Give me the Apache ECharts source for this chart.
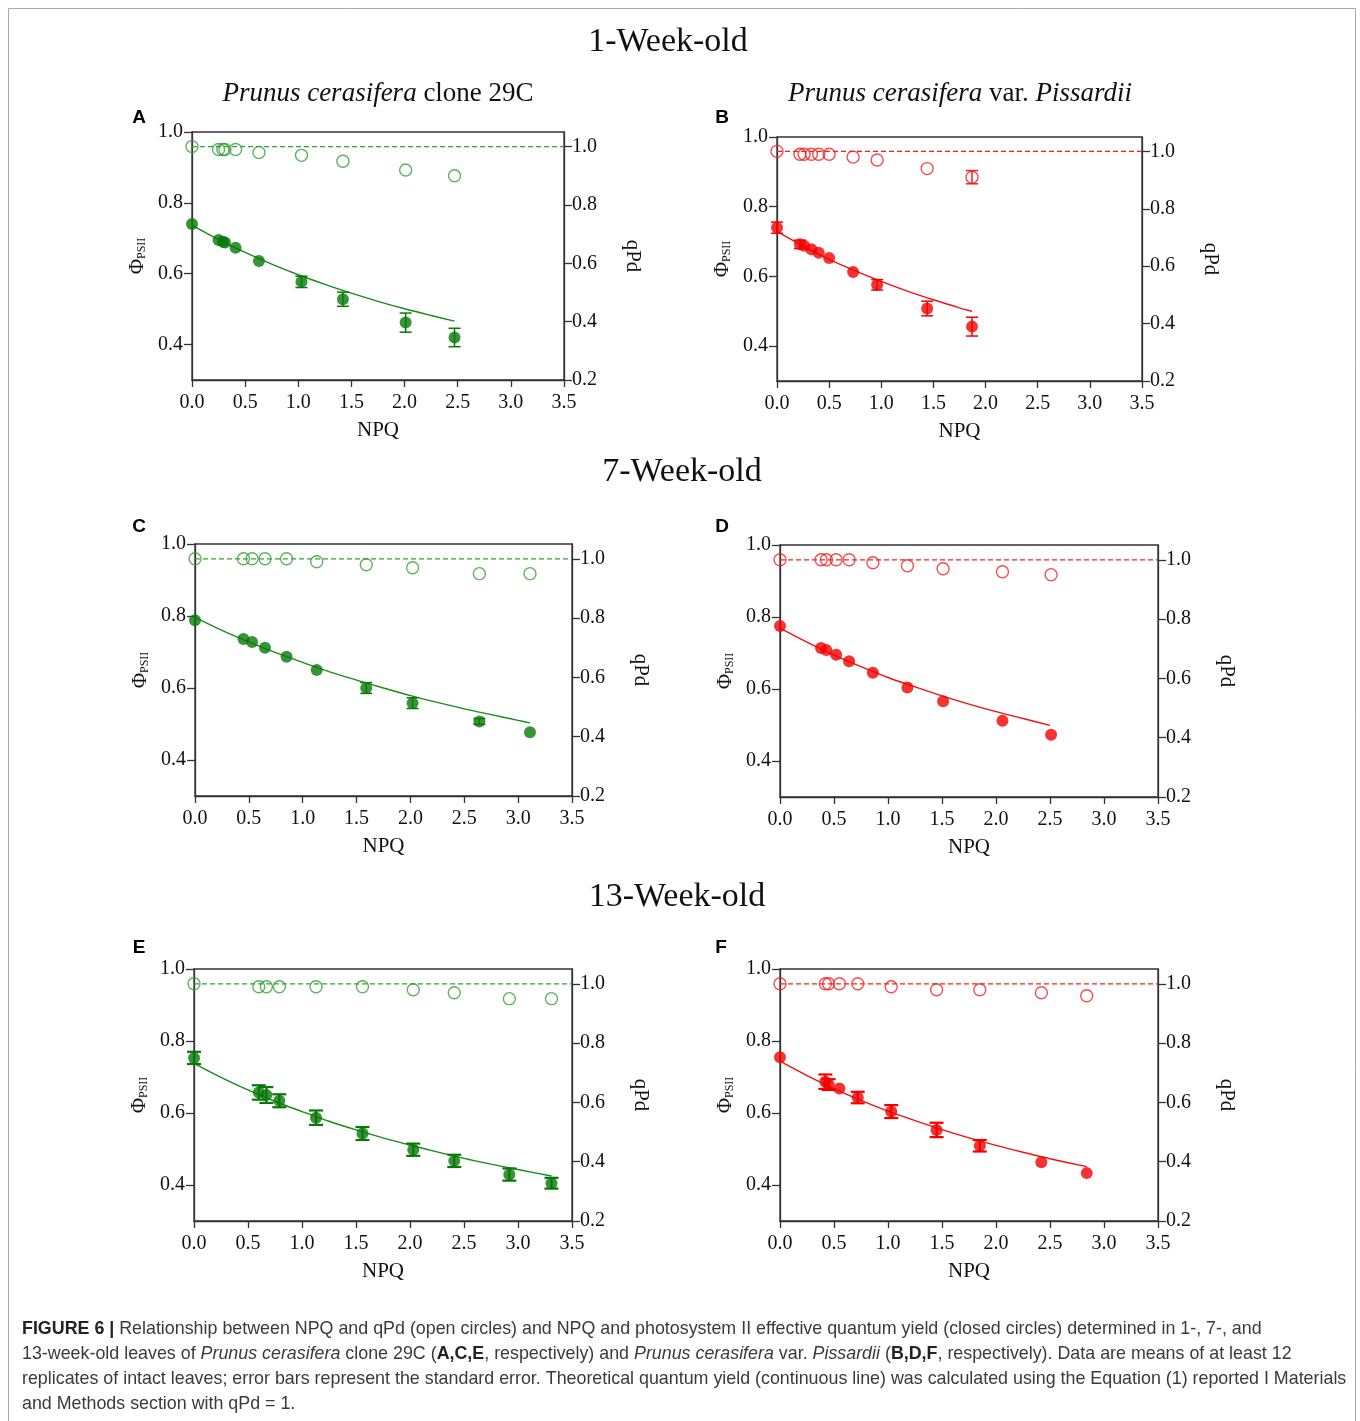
<!DOCTYPE html>
<html>
<head>
<meta charset="utf-8">
<script src="https://cdn.jsdelivr.net/npm/echarts@6/dist/echarts.min.js"></script>
<style>
  html, body { margin: 0; padding: 0; background: #fff; }
  #chart { width: 1360px; height: 1421px; }
</style>
</head>
<body>
<div id="chart"></div>
<script>
// ---------- DATA ----------
const xTicks = [0, 0.5, 1.0, 1.5, 2.0, 2.5, 3.0, 3.5];
const phiTicks = [0.4, 0.6, 0.8, 1.0];
const qpdTicks = [0.2, 0.4, 0.6, 0.8, 1.0];

// Panel A: 1-week-old, clone 29C
const npqA    = [0, 0.25, 0.29, 0.31, 0.41, 0.63, 1.03, 1.42, 2.01, 2.47];
const qpdA    = [1.0, 0.99, 0.99, 0.99, 0.99, 0.98, 0.97, 0.95, 0.92, 0.90];
const phiA    = [0.74, 0.695, 0.69, 0.688, 0.673, 0.636, 0.577, 0.528, 0.462, 0.42];
const phiErrA = [0, 0, 0, 0, 0, 0, 0.016, 0.02, 0.027, 0.026];
const curveXA = [0, 0.25, 0.5, 0.75, 1.0, 1.25, 1.5, 1.75, 2.0, 2.25, 2.47];
const curveYA = [0.737, 0.696, 0.66, 0.627, 0.597, 0.57, 0.545, 0.522, 0.501, 0.482, 0.466];

// Panel B: 1-week-old, var. Pissardii
const npqB    = [0, 0.22, 0.26, 0.33, 0.40, 0.50, 0.73, 0.96, 1.44, 1.87];
const qpdB    = [1.0, 0.99, 0.99, 0.99, 0.99, 0.99, 0.98, 0.97, 0.94, 0.91];
const qpdErrB = [0, 0, 0, 0, 0, 0, 0, 0, 0, 0.023];
const phiB    = [0.74, 0.692, 0.688, 0.678, 0.668, 0.653, 0.613, 0.576, 0.508, 0.456];
const phiErrB = [0.016, 0.012, 0, 0, 0, 0, 0, 0.015, 0.021, 0.027];
const curveXB = [0, 0.25, 0.5, 0.75, 1.0, 1.25, 1.5, 1.75, 1.87];
const curveYB = [0.729, 0.687, 0.649, 0.616, 0.586, 0.558, 0.533, 0.51, 0.5];

// Panel C: 7-week-old, clone 29C
const npqC    = [0, 0.45, 0.53, 0.65, 0.85, 1.13, 1.59, 2.02, 2.64, 3.11];
const qpdC    = [1.0, 1.0, 1.0, 1.0, 1.0, 0.99, 0.98, 0.97, 0.95, 0.95];
const phiC    = [0.788, 0.736, 0.728, 0.712, 0.687, 0.65, 0.60, 0.558, 0.507, 0.477];
const phiErrC = [0, 0, 0, 0, 0, 0, 0.015, 0.015, 0.008, 0];
const curveXC = [0, 0.25, 0.5, 0.75, 1.0, 1.25, 1.5, 1.75, 2.0, 2.25, 2.5, 2.75, 3.0, 3.11];
const curveYC = [0.796, 0.76, 0.728, 0.698, 0.671, 0.645, 0.622, 0.6, 0.579, 0.56, 0.542, 0.526, 0.51, 0.503];

// Panel D: 7-week-old, var. Pissardii
const npqD    = [0, 0.38, 0.43, 0.52, 0.64, 0.86, 1.18, 1.51, 2.06, 2.51];
const qpdD    = [1.0, 1.0, 1.0, 1.0, 1.0, 0.99, 0.98, 0.97, 0.96, 0.95];
const phiD    = [0.775, 0.714, 0.708, 0.695, 0.677, 0.645, 0.604, 0.566, 0.512, 0.473];
const phiErrD = [0, 0, 0, 0, 0, 0, 0, 0, 0, 0];
const curveXD = [0, 0.25, 0.5, 0.75, 1.0, 1.25, 1.5, 1.75, 2.0, 2.25, 2.5];
const curveYD = [0.769, 0.73, 0.694, 0.662, 0.632, 0.606, 0.581, 0.558, 0.537, 0.518, 0.499];

// Panel E: 13-week-old, clone 29C
const npqE    = [0, 0.60, 0.67, 0.79, 1.13, 1.56, 2.03, 2.41, 2.92, 3.31];
const qpdE    = [1.0, 0.99, 0.99, 0.99, 0.99, 0.99, 0.98, 0.97, 0.95, 0.95];
const phiE    = [0.753, 0.657, 0.65, 0.634, 0.587, 0.543, 0.498, 0.467, 0.429, 0.405];
const phiErrE = [0.017, 0.02, 0.022, 0.018, 0.02, 0.018, 0.017, 0.017, 0.017, 0.015];
const curveXE = [0, 0.25, 0.5, 0.75, 1.0, 1.25, 1.5, 1.75, 2.0, 2.25, 2.5, 2.75, 3.0, 3.31];
const curveYE = [0.738, 0.699, 0.664, 0.632, 0.604, 0.577, 0.553, 0.531, 0.511, 0.492, 0.474, 0.458, 0.443, 0.425];

// Panel F: 13-week-old, var. Pissardii
const npqF    = [0, 0.42, 0.45, 0.55, 0.72, 1.03, 1.45, 1.85, 2.42, 2.84];
const qpdF    = [1.0, 1.0, 1.0, 1.0, 1.0, 0.99, 0.98, 0.98, 0.97, 0.96];
const phiF    = [0.755, 0.687, 0.679, 0.668, 0.643, 0.604, 0.553, 0.509, 0.463, 0.433];
const phiErrF = [0, 0.02, 0.015, 0, 0.016, 0.018, 0.02, 0.016, 0, 0];
const curveXF = [0, 0.25, 0.5, 0.75, 1.0, 1.25, 1.5, 1.75, 2.0, 2.25, 2.5, 2.84];
const curveYF = [0.744, 0.704, 0.668, 0.635, 0.605, 0.579, 0.554, 0.531, 0.51, 0.491, 0.473, 0.451];

const qpdRef = 1.0;  // theoretical qPd = 1 (dashed)

// ---------- STYLE / LAYOUT ----------
const SERIF = "'Liberation Serif', 'Times New Roman', serif";
const SANS = "'Liberation Sans', Arial, sans-serif";
const palettes = {
  green: { closed: '#087808', open: '#35a035', line: '#1a8c1a', dash: '#35a035' },
  red:   { closed: '#f20000', open: '#f52020', line: '#f51010', dash: '#f52020' }
};
const AX = '#333';

const panels = [
  { letter: 'A', npq: npqA, qpd: qpdA, qpdErr: null,    phi: phiA, phiErr: phiErrA, cx: curveXA, cy: curveYA, pal: 'green', grid: { left: 192, top: 132, width: 372, height: 248 } },
  { letter: 'B', npq: npqB, qpd: qpdB, qpdErr: qpdErrB, phi: phiB, phiErr: phiErrB, cx: curveXB, cy: curveYB, pal: 'red',   grid: { left: 777, top: 137, width: 365, height: 244 } },
  { letter: 'C', npq: npqC, qpd: qpdC, qpdErr: null,    phi: phiC, phiErr: phiErrC, cx: curveXC, cy: curveYC, pal: 'green', grid: { left: 195, top: 544, width: 377, height: 252 } },
  { letter: 'D', npq: npqD, qpd: qpdD, qpdErr: null,    phi: phiD, phiErr: phiErrD, cx: curveXD, cy: curveYD, pal: 'red',   grid: { left: 780, top: 545, width: 378, height: 252 } },
  { letter: 'E', npq: npqE, qpd: qpdE, qpdErr: null,    phi: phiE, phiErr: phiErrE, cx: curveXE, cy: curveYE, pal: 'green', grid: { left: 194, top: 969, width: 378, height: 252 } },
  { letter: 'F', npq: npqF, qpd: qpdF, qpdErr: null,    phi: phiF, phiErr: phiErrF, cx: curveXF, cy: curveYF, pal: 'red',   grid: { left: 780, top: 969, width: 378, height: 252 } }
];

function errBarRenderer(color, lw, capHalf) {
  return function (params, api) {
    const x = api.value(0), y = api.value(1), e = api.value(2);
    const lo = api.coord([x, y - e]);
    const hi = api.coord([x, y + e]);
    const w = capHalf;
    const st = { stroke: color, lineWidth: lw };
    return {
      type: 'group',
      children: [
        { type: 'line', shape: { x1: lo[0], y1: lo[1], x2: hi[0], y2: hi[1] }, style: st },
        { type: 'line', shape: { x1: lo[0] - w, y1: lo[1], x2: lo[0] + w, y2: lo[1] }, style: st },
        { type: 'line', shape: { x1: hi[0] - w, y1: hi[1], x2: hi[0] + w, y2: hi[1] }, style: st }
      ]
    };
  };
}

const grids = [], xAxes = [], yAxes = [], series = [];
const axisLabelStyle = { fontFamily: SERIF, fontSize: 20, color: '#111' };

panels.forEach((p, i) => {
  const pal = palettes[p.pal];
  const heavy = (p.letter === 'E' || p.letter === 'F');
  grids.push(Object.assign({ show: true, borderColor: AX, borderWidth: 1.3, backgroundColor: 'transparent' }, p.grid));
  xAxes.push({
    type: 'value', gridIndex: i, min: xTicks[0], max: xTicks[xTicks.length - 1], interval: 0.5,
    name: 'NPQ', nameLocation: 'middle', nameGap: 40,
    nameTextStyle: { fontFamily: SERIF, fontSize: 21, color: '#111' },
    axisLine: { show: true, lineStyle: { color: AX, width: 1.3 } },
    axisTick: { show: true, inside: false, length: 7, lineStyle: { color: AX, width: 1.3 } },
    axisLabel: Object.assign({ margin: 13, formatter: v => v.toFixed(1) }, axisLabelStyle),
    splitLine: { show: false }
  });
  // left axis: PhiPSII
  yAxes.push({
    type: 'value', gridIndex: i, position: 'left', min: 0.3, max: 1.0,
    name: '{p|Φ}{s|PSII}', nameLocation: 'middle', nameGap: 44,
    nameTextStyle: {
      color: '#111',
      rich: {
        p: { fontFamily: SERIF, fontSize: 21, color: '#111', verticalAlign: 'bottom', lineHeight: 22 },
        s: { fontFamily: SERIF, fontSize: 12, color: '#111', verticalAlign: 'bottom', lineHeight: 14 }
      }
    },
    axisLine: { show: true, lineStyle: { color: AX, width: 1.3 } },
    axisTick: { show: true, length: 8, customValues: phiTicks, lineStyle: { color: AX, width: 1.3 } },
    axisLabel: Object.assign({ margin: 9, customValues: phiTicks, formatter: v => v.toFixed(1) }, axisLabelStyle),
    splitLine: { show: false }
  });
  // right axis: qPd
  yAxes.push({
    type: 'value', gridIndex: i, position: 'right', min: 0.2, max: 1.05, interval: 0.2,
    name: 'qPd', nameLocation: 'middle', nameGap: 58, nameRotate: -90,
    nameTextStyle: { fontFamily: SERIF, fontSize: 21, color: '#111' },
    axisLine: { show: true, lineStyle: { color: AX, width: 1.3 } },
    axisTick: { show: true, length: 8, customValues: qpdTicks, lineStyle: { color: AX, width: 1.3 } },
    axisLabel: Object.assign({ margin: 8, customValues: qpdTicks, formatter: v => v.toFixed(1) }, axisLabelStyle),
    splitLine: { show: false }
  });
  const yl = i * 2, yr = i * 2 + 1;

  // dashed reference qPd = 1
  series.push({
    type: 'line', xAxisIndex: i, yAxisIndex: yr, silent: true, symbol: 'none', z: 2,
    data: [[xTicks[0], qpdRef], [xTicks[xTicks.length - 1], qpdRef]],
    lineStyle: { color: pal.dash, width: 1.3, type: [5, 3] }
  });
  // theoretical yield curve
  series.push({
    type: 'line', xAxisIndex: i, yAxisIndex: yl, silent: true, symbol: 'none', z: 3,
    smooth: 0.3,
    data: p.cx.map((x, k) => [x, p.cy[k]]),
    lineStyle: { color: pal.line, width: 1.4 }
  });
  // error bars PhiPSII
  series.push({
    type: 'custom', xAxisIndex: i, yAxisIndex: yl, silent: true, z: 4,
    renderItem: errBarRenderer(pal.closed, heavy ? 2.2 : 1.5, heavy ? 7 : 6),
    data: p.npq.map((x, k) => [x, p.phi[k], p.phiErr[k]]).filter(d => d[2] > 0)
  });
  // error bars qPd
  if (p.qpdErr) {
    series.push({
      type: 'custom', xAxisIndex: i, yAxisIndex: yr, silent: true, z: 4,
      renderItem: errBarRenderer(pal.open, 1.5, 6),
      data: p.npq.map((x, k) => [x, p.qpd[k], p.qpdErr[k]]).filter(d => d[2] > 0)
    });
  }
  // open circles qPd
  series.push({
    type: 'scatter', xAxisIndex: i, yAxisIndex: yr, symbol: 'circle', symbolSize: 12, z: 5,
    data: p.npq.map((x, k) => [x, p.qpd[k]]),
    itemStyle: { color: 'rgba(255,255,255,0)', borderColor: pal.open, borderWidth: 1.4 }
  });
  // closed circles PhiPSII
  series.push({
    type: 'scatter', xAxisIndex: i, yAxisIndex: yl, symbol: 'circle', symbolSize: 12, z: 6,
    data: p.npq.map((x, k) => [x, p.phi[k]]),
    itemStyle: { color: pal.closed }
  });
});

// ---------- TEXT ELEMENTS ----------
const graphics = [];
graphics.push({ type: 'rect', silent: true, z: -1, shape: { x: 8.5, y: 8.5, width: 1347, height: 1440 }, style: { fill: 'none', stroke: '#aaa', lineWidth: 1 } });

function title(text, x, y, size) {
  return { type: 'text', x: x, y: y, silent: true,
    style: { text: text, fontFamily: SERIF, fontSize: size, fill: '#111', align: 'center', verticalAlign: 'middle' } };
}
graphics.push(title('1-Week-old', 668, 42, 34));
graphics.push(title('7-Week-old', 682, 472, 34));
graphics.push(title('13-Week-old', 677, 897, 34));

const italicRich = { i: { fontFamily: SERIF, fontSize: 27, fontStyle: 'italic', fill: '#111' } };
graphics.push({ type: 'text', x: 378, y: 94, silent: true,
  style: { text: '{i|Prunus cerasifera} clone 29C', fontFamily: SERIF, fontSize: 27, fill: '#111', align: 'center', verticalAlign: 'middle', rich: italicRich } });
graphics.push({ type: 'text', x: 960, y: 94, silent: true,
  style: { text: '{i|Prunus cerasifera} var. {i|Pissardii}', fontFamily: SERIF, fontSize: 27, fill: '#111', align: 'center', verticalAlign: 'middle', rich: italicRich } });

const letterPos = { A: [139, 118], B: [722, 118], C: [139, 527], D: [722, 527], E: [139, 948], F: [721, 948] };
panels.forEach(p => {
  const pos = letterPos[p.letter];
  graphics.push({ type: 'text', x: pos[0], y: pos[1], silent: true,
    style: { text: p.letter, fontFamily: SANS, fontWeight: 'bold', fontSize: 19, fill: '#000', align: 'center', verticalAlign: 'middle' } });
});

// caption (condensed look: larger font squeezed horizontally to the reference line width)
const captionLines = [
  '{b|FIGURE 6 |} Relationship between NPQ and qPd (open circles) and NPQ and photosystem II effective quantum yield (closed circles) determined in 1-, 7-, and',
  '13-week-old leaves of {i|Prunus cerasifera} clone 29C ({b|A,C,E}, respectively) and {i|Prunus cerasifera} var. {i|Pissardii} ({b|B,D,F}, respectively). Data are means of at least 12',
  'replicates of intact leaves; error bars represent the standard error. Theoretical quantum yield (continuous line) was calculated using the Equation (1) reported I Materials',
  'and Methods section with qPd = 1.'
];
const capSize = 18.5;
const cv = document.createElement('canvas').getContext('2d');
cv.font = capSize + "px " + SANS;
const plain1 = captionLines[0].replace(/\{[a-z]\|([^}]*)\}/g, '$1');
const plain3 = captionLines[2];
const s1 = 1247 / cv.measureText(plain1).width;
const s3 = 1316 / cv.measureText(plain3).width;
const capScale = Math.min(1, (s1 + s3) / 2);
captionLines.forEach((t, k) => {
  graphics.push({ type: 'text', x: 22, y: 1329 + k * 25, scaleX: capScale, silent: true,
    style: {
      text: t, fontFamily: SANS, fontSize: capSize, fill: '#3a3a3a', align: 'left', verticalAlign: 'middle',
      rich: {
        b: { fontFamily: SANS, fontSize: capSize, fontWeight: 'bold', fill: '#222' },
        i: { fontFamily: SANS, fontSize: capSize, fontStyle: 'italic', fill: '#3a3a3a' }
      }
    } });
});

const chart = echarts.init(document.getElementById('chart'), null, { renderer: 'canvas' });
chart.setOption({
  backgroundColor: '#fff',
  animation: false,
  grid: grids,
  xAxis: xAxes,
  yAxis: yAxes,
  series: series,
  graphic: graphics
});
</script>
</body>
</html>
